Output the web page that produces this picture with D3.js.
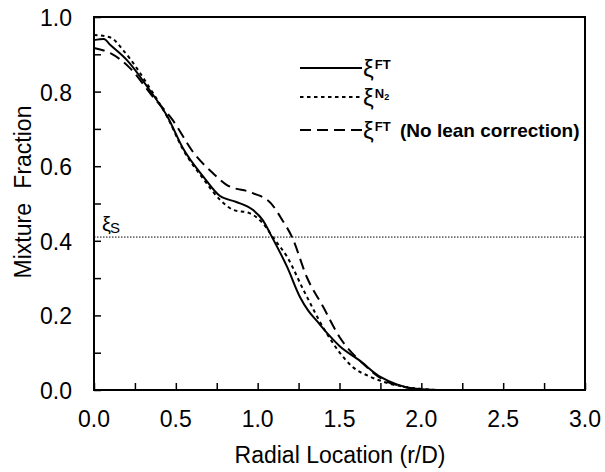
<!DOCTYPE html>
<html>
<head>
<meta charset="utf-8">
<script src="https://cdn.jsdelivr.net/npm/d3@7"></script>
<style>
  body { margin: 0; background: #fff; }
  text { font-family: "Liberation Sans", Arial, sans-serif; }
</style>
</head>
<body>
<div id="wrapper"></div>
<script>
// values
const xiFT_r  = [0, 0.06, 0.1, 0.2, 0.34, 0.45, 0.54, 0.67, 0.77, 0.87, 0.97, 1.03, 1.09, 1.18, 1.26, 1.31, 1.36, 1.44, 1.5, 1.62, 1.75, 1.85, 1.95, 2.1, 2.3]
const xiFT_v  = [0.938, 0.941, 0.925, 0.885, 0.804, 0.732, 0.651, 0.571, 0.52, 0.504, 0.483, 0.456, 0.408, 0.33, 0.248, 0.212, 0.186, 0.145, 0.118, 0.08, 0.035, 0.015, 0.004, 0, 0]

const xiN2_r  = [0, 0.1, 0.18, 0.34, 0.45, 0.54, 0.67, 0.77, 0.85, 0.95, 1.03, 1.1, 1.18, 1.28, 1.42, 1.58, 1.69, 1.8, 1.9, 2.0, 2.1, 2.3]
const xiN2_v  = [0.952, 0.945, 0.91, 0.81, 0.73, 0.648, 0.565, 0.51, 0.483, 0.474, 0.448, 0.405, 0.357, 0.268, 0.153, 0.062, 0.035, 0.018, 0.008, 0.003, 0, 0]

const xiNoLean_r = [0, 0.1, 0.22, 0.36, 0.48, 0.61, 0.73, 0.81, 0.97, 1.08, 1.15, 1.21, 1.3, 1.4, 1.5, 1.64, 1.77, 1.9, 2.0, 2.3]
const xiNoLean_v = [0.917, 0.903, 0.863, 0.786, 0.724, 0.635, 0.58, 0.55, 0.528, 0.501, 0.456, 0.41, 0.303, 0.223, 0.142, 0.072, 0.027, 0.008, 0, 0]

const xiStoich = 0.41

const xTicks = [0, 0.5, 1.0, 1.5, 2.0, 2.5, 3.0]
const yTicks = [0, 0.2, 0.4, 0.6, 0.8, 1.0]

const dimensions = {
  width: 605,
  height: 472,
  margin: { top: 17, right: 20, bottom: 82, left: 94 },
}
dimensions.boundedWidth = dimensions.width - dimensions.margin.left - dimensions.margin.right
dimensions.boundedHeight = dimensions.height - dimensions.margin.top - dimensions.margin.bottom

const wrapper = d3.select("#wrapper")
  .append("svg")
  .attr("width", dimensions.width)
  .attr("height", dimensions.height)

const bounds = wrapper.append("g")
  .attr("transform", `translate(${dimensions.margin.left}, ${dimensions.margin.top})`)

const xScale = d3.scaleLinear().domain([0, 3]).range([0, dimensions.boundedWidth])
const yScale = d3.scaleLinear().domain([0, 1]).range([dimensions.boundedHeight, 0])

// frame
bounds.append("rect")
  .attr("width", dimensions.boundedWidth)
  .attr("height", dimensions.boundedHeight)
  .attr("fill", "none")
  .attr("stroke", "#000")
  .attr("stroke-width", 2)

// axes, ticks pointing inward
const xAxis = bounds.append("g")
  .attr("transform", `translate(0, ${dimensions.boundedHeight})`)
  .call(d3.axisBottom(xScale).tickValues(d3.range(0, 3.01, 0.25)).tickSize(-7).tickFormat(""))
const yAxis = bounds.append("g")
  .call(d3.axisLeft(yScale).tickValues(d3.range(0, 1.01, 0.1)).tickSize(-7).tickFormat(""))
bounds.selectAll(".domain").remove()
bounds.selectAll(".tick line").attr("stroke-width", 1.5)

const xLabels = bounds.append("g")
  .selectAll("text")
  .data(xTicks)
  .join("text")
  .attr("x", d => xScale(d))
  .attr("y", dimensions.boundedHeight + 37)
  .attr("text-anchor", "middle")
  .attr("font-size", 23)
  .text(d => d.toFixed(1))

const yLabels = bounds.append("g")
  .selectAll("text")
  .data(yTicks)
  .join("text")
  .attr("x", -22)
  .attr("y", d => yScale(d) + 9)
  .attr("text-anchor", "end")
  .attr("font-size", 23)
  .text(d => d.toFixed(1))

wrapper.append("text")
  .attr("x", 340)
  .attr("y", 463)
  .attr("text-anchor", "middle")
  .attr("font-size", 23)
  .text("Radial Location (r/D)")

wrapper.append("text")
  .attr("transform", `translate(31, 192) rotate(-90)`)
  .attr("text-anchor", "middle")
  .attr("font-size", 23)
  .attr("word-spacing", 8)
  .text("Mixture Fraction")

// stoichiometric line
bounds.append("line")
  .attr("x1", 0)
  .attr("x2", dimensions.boundedWidth)
  .attr("y1", yScale(xiStoich))
  .attr("y2", yScale(xiStoich))
  .attr("stroke", "#000")
  .attr("stroke-width", 1)
  .attr("stroke-dasharray", "1.5,1.5")

const xiS = bounds.append("text")
  .attr("x", 8)
  .attr("y", yScale(xiStoich) - 6)
  .attr("font-size", 20)
xiS.append("tspan").text("ξ")
xiS.append("tspan").attr("font-size", 15).attr("dx", -1).attr("dy", 2).text("S")

// curves
const lineGen = d3.line()
  .x(d => xScale(d[0]))
  .y(d => yScale(d[1]))
  .curve(d3.curveMonotoneX)

const series = [
  { r: xiFT_r, v: xiFT_v, dash: null },
  { r: xiN2_r, v: xiN2_v, dash: "3.5,3.5" },
  { r: xiNoLean_r, v: xiNoLean_v, dash: "11,6" },
]

bounds.append("g")
  .selectAll("path")
  .data(series)
  .join("path")
  .attr("d", s => lineGen(d3.zip(s.r, s.v)))
  .attr("fill", "none")
  .attr("stroke", "#000")
  .attr("stroke-width", 2)
  .attr("stroke-dasharray", s => s.dash)

// legend
const legendRows = [
  { dash: null, sup: "FT", note: "" },
  { dash: "3.5,3.5", sup: "N", sub: "2", note: "" },
  { dash: "11,6", sup: "FT", note: "(No lean correction)" },
]
const legend = wrapper.append("g")
const rowY = [68, 97, 130]
legendRows.forEach((row, i) => {
  legend.append("line")
    .attr("x1", 300).attr("x2", 362)
    .attr("y1", rowY[i]).attr("y2", rowY[i])
    .attr("stroke", "#000")
    .attr("stroke-width", 2)
    .attr("stroke-dasharray", row.dash)
  const t = legend.append("text")
    .attr("x", 363)
    .attr("y", rowY[i] + 9)
    .attr("font-size", 24)
  t.append("tspan").text("ξ")
  t.append("tspan").attr("font-size", 13).attr("font-weight", "bold").attr("dy", -8).attr("dx", 1).text(row.sup)
  if (row.sub) t.append("tspan").attr("font-size", 9).attr("font-weight", "bold").attr("dy", 2).text(row.sub)
  if (row.note) {
    legend.append("text")
      .attr("x", 400)
      .attr("y", rowY[i] + 7)
      .attr("font-size", 19)
      .attr("font-weight", "bold")
      .text(row.note)
  }
})
</script>
</body>
</html>
